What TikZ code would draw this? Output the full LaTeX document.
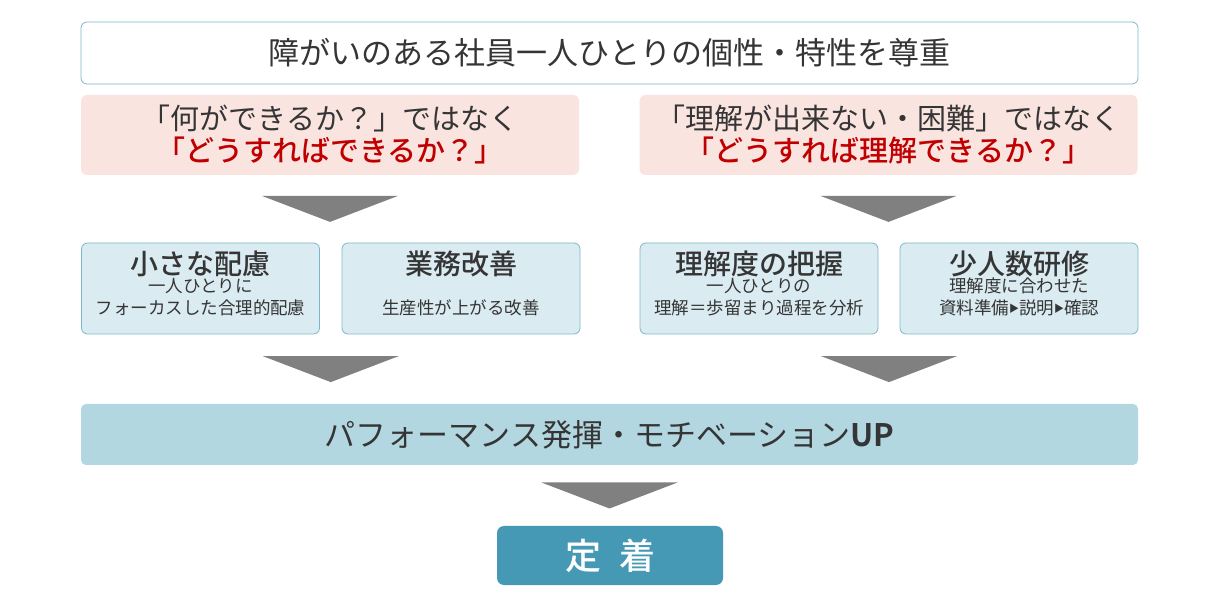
\documentclass[tikz,border=0pt]{standalone}
\usepackage{fontspec}
\setmainfont{Noto Sans CJK JP}[BoldFont={Noto Sans CJK JP Medium}]
\newfontfamily\heavyfont{Noto Sans CJK JP Bold}
\usetikzlibrary{calc}
\definecolor{txtgray}{HTML}{353535}
\definecolor{hired}{HTML}{C00000}
\definecolor{pinkfill}{HTML}{FAE4E0}
\definecolor{bluefill}{HTML}{DAEBF1}
\definecolor{blueline}{HTML}{7DB8CA}
\definecolor{barfill}{HTML}{B3D7E1}
\definecolor{goalfill}{HTML}{4599B4}
\definecolor{arrowgray}{HTML}{808080}
\newcommand{\downtri}[2]{%
  \fill[arrowgray] ($($(#1)!0.5!(#2)$)+(-68,13)$) -- ($($(#1)!0.5!(#2)$)+(68,13)$)
    -- ($($(#1)!0.5!(#2)$)+(0,-13)$) -- cycle;}

\begin{document}
\begin{tikzpicture}[x=1pt, y=1pt, text=txtgray,
    headbox/.style={draw=blueline, line width=0.8pt, fill=white, rounded corners=6pt,
      minimum width=1057pt, minimum height=62pt, font=\fontsize{31}{36}\selectfont},
    pinkbox/.style={fill=pinkfill, rounded corners=6pt, minimum width=498pt,
      minimum height=80pt, align=center, font=\fontsize{29}{32}\selectfont},
    bluebox/.style={draw=blueline, line width=0.8pt, fill=bluefill, rounded corners=6pt,
      minimum width=238pt, minimum height=91pt, align=center,
      font=\fontsize{17.5}{22}\selectfont},
    barbox/.style={fill=barfill, rounded corners=5pt, minimum width=1057pt,
      minimum height=61pt, font=\fontsize{31}{36}\selectfont},
    goalbox/.style={fill=goalfill, rounded corners=7pt, minimum width=226pt,
      minimum height=59pt, text=white, font=\fontsize{36}{40}\selectfont\bfseries}]
    \useasboundingbox (0,0) rectangle (1224,600);
    % top message
    \node[headbox] (head) at (609.5,547) {障がいのある社員一人ひとりの個性・特性を尊重};
    % questions
    \node[pinkbox] (askL) at (330,465) {「何ができるか？」ではなく\\
      {\color{hired}\bfseries 「どうすればできるか？」}};
    \node[pinkbox] (askR) at (888.5,465) {「理解が出来ない・困難」ではなく\\
      {\color{hired}\bfseries 「どうすれば理解できるか？」}};
    % measures
    \node[bluebox] (care) at (200.5,311.5) {{\fontsize{28}{28}\selectfont\bfseries 小さな配慮}\\[-4pt]
      一人ひとりに\\フォーカスした合理的配慮\\[-11pt]\mbox{}};
    \node[bluebox] (work) at (461,311.5) {{\fontsize{28}{28}\selectfont\bfseries 業務改善}\\[-4pt]
      \mbox{}\\生産性が上がる改善\\[-11pt]\mbox{}};
    \node[bluebox] (grasp) at (759,311.5) {{\fontsize{28}{28}\selectfont\bfseries 理解度の把握}\\[-4pt]
      一人ひとりの\\理解＝歩留まり過程を分析\\[-11pt]\mbox{}};
    \node[bluebox] (train) at (1019,311.5) {{\fontsize{28}{28}\selectfont\bfseries 少人数研修}\\[-4pt]
      理解度に合わせた\\資料準備{\fontsize{10}{10}\selectfont\raisebox{2pt}{▶}}説明{\fontsize{10}{10}\selectfont\raisebox{2pt}{▶}}確認\\[-11pt]\mbox{}};
    % result
    \node[barbox] (perf) at (609.5,165.5) {パフォーマンス発揮・モチベーション{\heavyfont UP}};
    \node[goalbox] (goal) at (610,44.5) {定\hspace{0.5em}着};
    % arrows
    \coordinate (gapL) at ($(care.south east)!0.5!(work.south west)$);
    \coordinate (gapR) at ($(grasp.south east)!0.5!(train.south west)$);
    \downtri{askL.south}{askL.south |- care.north}
    \downtri{askR.south}{askR.south |- grasp.north}
    \downtri{gapL}{gapL |- perf.north}
    \downtri{gapR}{gapR |- perf.north}
    \downtri{perf.south}{perf.south |- goal.north}
\end{tikzpicture}
\end{document}
